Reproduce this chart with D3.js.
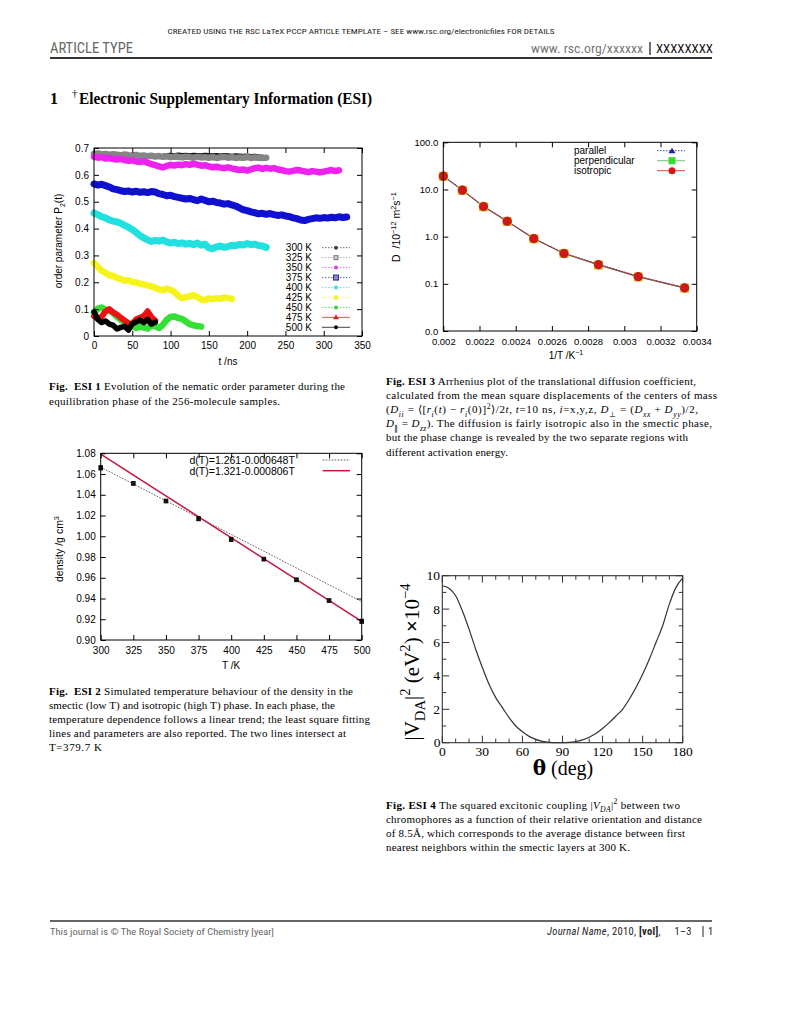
<!DOCTYPE html>
<html><head><meta charset="utf-8">
<script src="https://cdn.jsdelivr.net/npm/d3@7"></script>
<style>body{margin:0;background:#fff} svg{display:block} text{white-space:pre}</style>
</head><body><svg id="page" width="791" height="1024"></svg>
<script>
// ---------------- DATA ----------------
// ESI 1: order parameter P2(t), sampled every p2Step ns
const p2Step = 5;
const p2Labels = ["300 K","325 K","350 K","375 K","400 K","425 K","450 K","475 K","500 K"];
const p2_300 = [0.676,0.678,0.674,0.676,0.673,0.675,0.673,0.671,0.674,0.672,0.670,0.672,0.669,0.671,0.668,0.670,0.667,0.669,0.670,0.673,0.674,0.672,0.675,0.673,0.674,0.672,0.674,0.673,0.672,0.674,0.673,0.672,0.673,0.671,0.673,0.672,0.670,0.672,0.671,0.670,0.671,0.669,0.670,0.668,0.667,0.665];
const p2_325 = [0.678,0.680,0.676,0.678,0.674,0.677,0.675,0.672,0.676,0.673,0.671,0.674,0.670,0.672,0.669,0.671,0.668,0.670,0.667,0.669,0.666,0.668,0.667,0.665,0.668,0.666,0.664,0.667,0.665,0.666,0.664,0.666,0.663,0.665,0.667,0.664,0.666,0.663,0.665,0.664,0.666,0.663,0.665,0.664,0.663,0.664];
const p2_350 = [0.667,0.664,0.666,0.661,0.663,0.659,0.657,0.660,0.655,0.652,0.654,0.650,0.648,0.651,0.645,0.640,0.636,0.632,0.628,0.633,0.637,0.635,0.638,0.636,0.640,0.637,0.641,0.638,0.634,0.636,0.632,0.628,0.630,0.627,0.625,0.628,0.624,0.621,0.618,0.620,0.616,0.620,0.625,0.627,0.622,0.626,0.623,0.625,0.620,0.618,0.614,0.612,0.615,0.618,0.616,0.613,0.610,0.614,0.612,0.609,0.612,0.615,0.618,0.614,0.617];
const p2_375 = [0.566,0.562,0.565,0.560,0.555,0.548,0.545,0.541,0.538,0.540,0.536,0.539,0.535,0.537,0.534,0.538,0.536,0.530,0.527,0.522,0.524,0.519,0.516,0.513,0.510,0.512,0.508,0.504,0.510,0.505,0.500,0.502,0.497,0.495,0.491,0.493,0.488,0.484,0.477,0.470,0.467,0.462,0.459,0.455,0.457,0.453,0.456,0.452,0.449,0.451,0.447,0.445,0.440,0.437,0.432,0.430,0.434,0.437,0.440,0.438,0.441,0.439,0.442,0.440,0.444,0.441,0.443];
const p2_400 = [0.458,0.452,0.444,0.440,0.432,0.428,0.425,0.420,0.412,0.405,0.396,0.386,0.374,0.365,0.358,0.352,0.356,0.353,0.357,0.350,0.346,0.349,0.344,0.347,0.342,0.345,0.340,0.346,0.338,0.342,0.328,0.325,0.332,0.335,0.330,0.333,0.338,0.336,0.341,0.339,0.344,0.340,0.342,0.337,0.335,0.330];
const p2_425 = [0.272,0.258,0.243,0.236,0.226,0.224,0.216,0.212,0.206,0.208,0.201,0.199,0.195,0.192,0.188,0.185,0.180,0.174,0.170,0.176,0.172,0.164,0.150,0.141,0.145,0.148,0.152,0.145,0.136,0.134,0.140,0.137,0.141,0.139,0.144,0.141,0.138];
const p2_450 = [0.088,0.102,0.106,0.098,0.094,0.086,0.072,0.060,0.052,0.040,0.036,0.030,0.036,0.031,0.028,0.041,0.036,0.030,0.042,0.060,0.071,0.073,0.067,0.064,0.054,0.044,0.040,0.037,0.035];
const p2_475 = [0.074,0.064,0.072,0.092,0.100,0.088,0.080,0.068,0.058,0.048,0.044,0.062,0.068,0.074,0.092,0.070,0.058];
const p2_500 = [0.090,0.062,0.050,0.056,0.044,0.040,0.026,0.032,0.036,0.022,0.046,0.052,0.060,0.050,0.062,0.044,0.052];
const p2Series = [p2_300,p2_325,p2_350,p2_375,p2_400,p2_425,p2_450,p2_475,p2_500];
const p2XTicks = [0,50,100,150,200,250,300,350];
const p2YTicks = [0,0.1,0.2,0.3,0.4,0.5,0.6,0.7];

// ESI 2: density vs temperature
const densT = [300,325,350,375,400,425,450,475,500];
const densVal = [1.066,1.051,1.034,1.017,0.997,0.978,0.958,0.938,0.918];
const densErr = [0.002,0.0015,0.0015,0.002,0.002,0.0015,0.0015,0.0015,0.002];
const fitT = [300,500];
const fitSmectic = [1.0666,0.937];   // d(T)=1.261-0.000648T
const fitIso = [1.0792,0.918];       // d(T)=1.321-0.000806T
const fitLabels = ["d(T)=1.261-0.000648T","d(T)=1.321-0.000806T"];
const densXTicks = [300,325,350,375,400,425,450,475,500];
const densYTicks = [0.90,0.92,0.94,0.96,0.98,1.00,1.02,1.04,1.06,1.08];

// ESI 3: Arrhenius plot
const invT = [0.002,0.0021053,0.0022222,0.0023529,0.0025,0.0026667,0.0028571,0.0030769,0.0033333];
const Dpar  = [19.5,9.8,4.4,2.15,0.92,0.45,0.26,0.145,0.083];
const Dperp = [19.0,9.6,4.3,2.10,0.90,0.44,0.25,0.140,0.081];
const Diso  = [19.2,9.7,4.35,2.12,0.91,0.44,0.255,0.142,0.082];
const dLabels = ["parallel","perpendicular","isotropic"];
const arrXTicks = [0.002,0.0022,0.0024,0.0026,0.0028,0.003,0.0032,0.0034];
const arrYTicks = [0.01,0.1,1,10,100];

// ESI 4: squared excitonic coupling vs angle
const theta = [0,5,10,15,20,25,30,35,40,45,50,55,60,65,70,75,80,85,90,95,100,105,110,115,120,125,130,135,140,145,150,155,160,165,170,175,180];
const vda2  = [9.4,9.25,8.8,7.9,6.8,5.6,4.5,3.5,2.7,2.1,1.5,1.0,0.65,0.38,0.2,0.08,0.02,0.0,0.0,0.02,0.07,0.17,0.33,0.55,0.85,1.2,1.6,2.0,2.6,3.3,4.1,5.0,6.0,7.0,8.3,9.3,9.85];
const angXTicks = [0,30,60,90,120,150,180];
const angYTicks = [0,2,4,6,8,10];

// ---------------- HELPERS ----------------
const svg = d3.select("#page");
svg.append("rect").attr("width",791).attr("height",1024).attr("fill","#fff");
const SANS = "'Liberation Sans', Arial, sans-serif";
const SERIF = "'Liberation Serif', 'Times New Roman', serif";

function rich(parent, x, y, segs, o) {
  const fs = o.size;
  const t = parent.append("text").attr("x",x).attr("y",y)
    .attr("font-family",o.family||SERIF).attr("font-size",fs).attr("fill",o.fill||"#000");
  if (o.anchor) t.attr("text-anchor",o.anchor);
  if (o.rotate) t.attr("transform",`rotate(-90 ${x} ${y})`);
  if (o.len) t.attr("textLength",o.len).attr("lengthAdjust","spacing");
  if (o.weight) t.attr("font-weight",o.weight);
  let cur = 0;
  segs.forEach(s => {
    if (typeof s === "string") s = {t:s};
    const ts = t.append("tspan").text(s.t);
    const target = s.sub ? fs*(o.subShift||0.3) : s.sup ? -fs*(o.supShift||0.42) : 0;
    if (target !== cur) { ts.attr("dy", target-cur); cur = target; }
    if (s.sub || s.sup) ts.attr("font-size", fs*(o.scriptScale||0.7));
    if (s.b) ts.attr("font-weight","bold");
    if (s.i) ts.attr("font-style","italic");
    if (s.fill) ts.attr("fill", s.fill);
    if (s.family) ts.attr("font-family", s.family);
    if (s.size) ts.attr("font-size", s.size);
  });
  return t;
}

function frameAxes(g, xs, ys, xt, yt, o) {
  const [xa,xb] = xs.range(), [ya,yb] = ys.range();
  const ts = o.tick||5;
  const fmtX = o.fmtX || (d=>d), fmtY = o.fmtY || (d=>d);
  const style = sel => sel.attr("font-family",o.family||SANS).attr("font-size",o.fs||10);
  const bx = g.append("g").attr("transform",`translate(0,${ya})`)
    .call(d3.axisBottom(xs).tickValues(xt).tickSize(-ts).tickPadding(o.padX||4).tickFormat(fmtX));
  const tx = g.append("g").attr("transform",`translate(0,${yb})`)
    .call(d3.axisTop(xs).tickValues(xt).tickSize(-ts).tickFormat(""));
  const ly = g.append("g").attr("transform",`translate(${xa},0)`)
    .call(d3.axisLeft(ys).tickValues(yt).tickSize(-ts).tickPadding(o.padY||5).tickFormat(fmtY));
  const ry = g.append("g").attr("transform",`translate(${xb},0)`)
    .call(d3.axisRight(ys).tickValues(yt).tickSize(-ts).tickFormat(""));
  [bx,tx,ly,ry].forEach(a => { style(a); a.select(".domain").remove();
    a.selectAll("line").attr("stroke",o.color||"#000").attr("stroke-width",o.tw||1);
    a.selectAll("text").attr("fill","#000"); });
  g.append("rect").attr("x",xa).attr("y",yb).attr("width",xb-xa).attr("height",ya-yb)
    .attr("fill","none").attr("stroke",o.color||"#000").attr("stroke-width",o.fw||1);
  return {bx,tx,ly,ry};
}

// ---------------- HEADER / FOOTER ----------------
const COND = "'Liberation Sans Narrow', 'Roboto Condensed', 'Liberation Sans', sans-serif";
svg.append("text").attr("x",361).attr("y",34).attr("text-anchor","middle").attr("font-family",COND)
  .attr("font-size",8).attr("textLength",387).attr("lengthAdjust","spacingAndGlyphs").attr("fill","#222")
  .text("CREATED USING THE RSC LaTeX PCCP ARTICLE TEMPLATE – SEE www.rsc.org/electronicfiles FOR DETAILS");
svg.append("text").attr("x",50).attr("y",53).attr("font-family",COND).attr("font-size",14)
  .attr("fill","#666").attr("textLength",83).attr("lengthAdjust","spacingAndGlyphs").text("ARTICLE TYPE");
svg.append("text").attr("x",531).attr("y",53).attr("font-family",COND).attr("font-size",13)
  .attr("fill","#777").attr("textLength",112).attr("lengthAdjust","spacingAndGlyphs").text("www. rsc.org/xxxxxx");
svg.append("line").attr("x1",650).attr("x2",650).attr("y1",42).attr("y2",55).attr("stroke","#222").attr("stroke-width",1.3);
svg.append("text").attr("x",656).attr("y",53).attr("font-family",COND).attr("font-size",13)
  .attr("fill","#111").attr("textLength",57).attr("lengthAdjust","spacingAndGlyphs").text("XXXXXXXX");
svg.append("line").attr("x1",50).attr("x2",712).attr("y1",58).attr("y2",58).attr("stroke","#333").attr("stroke-width",2);

svg.append("text").attr("x",50).attr("y",104).attr("font-family",SERIF).attr("font-weight","bold").attr("font-size",16).text("1");
svg.append("text").attr("x",72).attr("y",97).attr("font-family",SERIF).attr("font-size",11).text("†");
svg.append("text").attr("x",79).attr("y",104).attr("font-family",SERIF).attr("font-weight","bold").attr("font-size",16)
  .attr("textLength",293).attr("lengthAdjust","spacingAndGlyphs").text("Electronic Supplementary Information (ESI)");

svg.append("line").attr("x1",50).attr("x2",712).attr("y1",921).attr("y2",921).attr("stroke","#333").attr("stroke-width",1.6);
svg.append("text").attr("x",50).attr("y",935).attr("font-family",COND).attr("font-size",9.5).attr("fill","#666")
  .attr("textLength",224).attr("lengthAdjust","spacingAndGlyphs").text("This journal is © The Royal Society of Chemistry [year]");
rich(svg, 547, 935, [{t:"Journal Name",i:true},", 2010, ",{t:"[vol]",b:true},",     1–3  "], {family:COND,size:10.5,fill:"#222",len:150});
svg.append("line").attr("x1",703).attr("x2",703).attr("y1",926).attr("y2",937).attr("stroke","#222").attr("stroke-width",1);
svg.append("text").attr("x",708).attr("y",935).attr("font-family",COND).attr("font-size",10.5).attr("fill","#222").text("1");

// ---------------- ESI 1 ----------------
{
  const g = svg.append("g");
  const xs = d3.scaleLinear().domain([0,350]).range([94,362]);
  const ys = d3.scaleLinear().domain([0,0.7]).range([336,148]);
  const colors = ["#111","#858585","#ee22ee","#1010d0","#22e0e0","#f4f41a","#33e033","#ee1111","#000"];
  const widths = [4.5,6.5,6.5,7,7,6.5,6.5,6,5.5];
  const line = d3.line().x((d,i)=>xs(i*p2Step)).y(d=>ys(d));
  p2Series.forEach((s,k) => {
    g.append("path").datum(s).attr("d",line).attr("fill","none").attr("stroke",colors[k])
      .attr("stroke-width",widths[k]).attr("stroke-linejoin","round").attr("stroke-linecap","round");
  });
  frameAxes(g, xs, ys, p2XTicks, p2YTicks, {fs:10, padX:6, fmtY:d=>d===0?"0":d3.format(".1f")(d), fmtX:d=>d});
  g.append("text").attr("x",228).attr("y",365).attr("text-anchor","middle").attr("font-family",SANS).attr("font-size",10).text("t /ns");
  rich(g, 62, 241, ["order parameter P",{t:"2",sub:true},"(t)"], {family:SANS,size:10,anchor:"middle",rotate:true});
  // legend
  const legCol = ["#444","#999","#e040e0","#4040a0","#40e0e0","#f0f040","#40d040","#dd2222","#111"];
  const dash = ["1.5,1.5","1.5,1.5","1.5,1.5","1.5,1.5","1.5,1.5","1.5,1.5","1.5,1.5",null,null];
  p2Labels.forEach((lab,k) => {
    const y = 247.7 + k*9.95;
    g.append("text").attr("x",312).attr("y",y+3.5).attr("text-anchor","end").attr("font-family",SANS).attr("font-size",10).text(lab);
    const l = g.append("line").attr("x1",322).attr("x2",350).attr("y1",y).attr("y2",y).attr("stroke",legCol[k]).attr("stroke-width",0.8);
    if (dash[k]) l.attr("stroke-dasharray",dash[k]);
    if (k===3) g.append("rect").attr("x",333.5).attr("y",y-2.5).attr("width",5).attr("height",5).attr("fill","#8888cc").attr("stroke","#303080");
    else if (k===1) g.append("rect").attr("x",334).attr("y",y-2).attr("width",4).attr("height",4).attr("fill","#ccc").attr("stroke","#777");
    else if (k===7) g.append("path").attr("d",`M333,${y+2} L336,${y-3} L339,${y+2} Z`).attr("fill",legCol[k]);
    else g.append("circle").attr("cx",336).attr("cy",y).attr("r",k===5?2.5:2).attr("fill",legCol[k]);
  });
}

// ---------------- ESI 3 ----------------
{
  const g = svg.append("g");
  const xs = d3.scaleLinear().domain([0.002,0.0034]).range([443.3,696.7]);
  const ys = d3.scaleLog().domain([0.01,100]).range([331,142.3]);
  const mk = arr => d3.line().x((d,i)=>xs(invT[i])).y(d=>ys(d))(arr);
  g.append("path").attr("d",mk(Dperp)).attr("fill","none").attr("stroke","#66bb66").attr("stroke-width",1);
  g.append("path").attr("d",mk(Dpar)).attr("fill","none").attr("stroke","#3030a0").attr("stroke-width",1).attr("stroke-dasharray","1.5,1.5");
  g.append("path").attr("d",mk(Diso)).attr("fill","none").attr("stroke","#a04040").attr("stroke-width",1.1);
  Dpar.forEach((d,i)=>{ const x=xs(invT[i]), y=ys(d);
    g.append("path").attr("d",`M${x-3.5},${y+3} L${x},${y-4} L${x+3.5},${y+3} Z`).attr("fill","#2020b0"); });
  Dperp.forEach((d,i)=>{ const x=xs(invT[i]), y=ys(d);
    g.append("rect").attr("x",x-4.5).attr("y",y-4.5).attr("width",9).attr("height",9).attr("fill","#e0c020"); });
  Diso.forEach((d,i)=>{ const x=xs(invT[i]), y=ys(d);
    g.append("circle").attr("cx",x).attr("cy",y).attr("r",4.3).attr("fill","#d01818").attr("stroke","#a01010").attr("stroke-width",0.6); });
  frameAxes(g, xs, ys, arrXTicks, arrYTicks, {fs:9.5, padX:7, fmtY:d3.format(".1f"), fmtX:d=>String(+d.toFixed(4))});
  rich(g, 566, 359, ["1/T /K",{t:"−1",sup:true}], {family:SANS,size:10,anchor:"middle"});
  rich(g, 400, 227, ["D  /10",{t:"−12",sup:true}," m",{t:"2",sup:true},"s",{t:"−1",sup:true}], {family:SANS,size:10.5,anchor:"middle",rotate:true});
  const lc = ["#3030a0","#66bb66","#cc3333"];
  dLabels.forEach((lab,k)=>{
    const y = 150.7 + k*10;
    g.append("text").attr("x",574).attr("y",y+3.5).attr("font-family",SANS).attr("font-size",10).text(lab);
    const l = g.append("line").attr("x1",657).attr("x2",685).attr("y1",y).attr("y2",y).attr("stroke",lc[k]).attr("stroke-width",0.9);
    if (k===0) { l.attr("stroke-dasharray","1.5,1.5");
      g.append("path").attr("d",`M668.5,${y+2.5} L672,${y-3} L675.5,${y+2.5} Z`).attr("fill","#2020b0"); }
    if (k===1) g.append("rect").attr("x",668.5).attr("y",y-3.5).attr("width",7).attr("height",7).attr("fill","#33dd33");
    if (k===2) g.append("circle").attr("cx",672).attr("cy",y).attr("r",3.5).attr("fill","#d01818");
  });
}

// ---------------- ESI 2 ----------------
{
  const g = svg.append("g");
  const xs = d3.scaleLinear().domain([300,500]).range([100.7,361.7]);
  const ys = d3.scaleLinear().domain([0.90,1.08]).range([640,453.3]);
  const ln = d3.line().x((d,i)=>xs(fitT[i])).y(d=>ys(d));
  g.append("path").attr("d",ln(fitSmectic)).attr("fill","none").attr("stroke","#555").attr("stroke-width",1).attr("stroke-dasharray","1.5,1.5");
  g.append("path").attr("d",ln(fitIso)).attr("fill","none").attr("stroke","#c4163e").attr("stroke-width",1.5);
  densT.forEach((t,i)=>{
    const x = xs(t);
    g.append("line").attr("x1",x).attr("x2",x).attr("y1",ys(densVal[i]-densErr[i])).attr("y2",ys(densVal[i]+densErr[i])).attr("stroke","#000").attr("stroke-width",1);
    [densVal[i]-densErr[i], densVal[i]+densErr[i]].forEach(v=>
      g.append("line").attr("x1",x-2).attr("x2",x+2).attr("y1",ys(v)).attr("y2",ys(v)).attr("stroke","#000").attr("stroke-width",1));
    g.append("rect").attr("x",x-2.3).attr("y",ys(densVal[i])-2.3).attr("width",4.6).attr("height",4.6).attr("fill","#111");
  });
  frameAxes(g, xs, ys, densXTicks, densYTicks, {fs:10, padX:7, fmtY:d3.format(".2f"), fmtX:d=>d});
  g.append("text").attr("x",231).attr("y",669).attr("text-anchor","middle").attr("font-family",SANS).attr("font-size",10).text("T /K");
  rich(g, 63, 549, ["density /g cm",{t:"3",sup:true}], {family:SANS,size:10.5,anchor:"middle",rotate:true});
  fitLabels.forEach((lab,k)=>{
    const y = 460 + k*10.7;
    g.append("text").attr("x",189.5).attr("y",y+3.8).attr("font-family",SANS).attr("font-size",10.5).text(lab);
    const l = g.append("line").attr("x1",322.7).attr("x2",350).attr("y1",y).attr("y2",y)
      .attr("stroke",k===0?"#555":"#c4163e").attr("stroke-width",k===0?1:1.5);
    if (k===0) l.attr("stroke-dasharray","1.5,1.5");
  });
}

// ---------------- ESI 4 ----------------
{
  const g = svg.append("g");
  const xs = d3.scaleLinear().domain([0,180]).range([442.3,682.7]);
  const ys = d3.scaleLinear().domain([0,10]).range([742.7,575.7]);
  const minorX = d3.range(0,181,10), minorY = d3.range(0,11,1);
  minorX.forEach(v=>{ const L = v%30===0?7:4; const x=xs(v);
    g.append("line").attr("x1",x).attr("x2",x).attr("y1",742.7).attr("y2",742.7-L).attr("stroke","#333");
    g.append("line").attr("x1",x).attr("x2",x).attr("y1",575.7).attr("y2",575.7+L).attr("stroke","#333"); });
  minorY.forEach(v=>{ const L = v%2===0?7:4; const y=ys(v);
    g.append("line").attr("x1",442.3).attr("x2",442.3+L).attr("y1",y).attr("y2",y).attr("stroke","#333");
    g.append("line").attr("x1",682.7).attr("x2",682.7-L).attr("y1",y).attr("y2",y).attr("stroke","#333"); });
  g.append("rect").attr("x",442.3).attr("y",575.7).attr("width",240.4).attr("height",167).attr("fill","none").attr("stroke","#333").attr("stroke-width",1.1);
  const ln = d3.line().curve(d3.curveMonotoneX).x((d,i)=>xs(theta[i])).y(d=>ys(d));
  g.append("path").attr("d",ln(vda2)).attr("fill","none").attr("stroke","#333").attr("stroke-width",1.2);
  angXTicks.forEach(v=>g.append("text").attr("x",xs(v)).attr("y",756).attr("text-anchor","middle").attr("font-family",SERIF).attr("font-size",13.5).text(v));
  angYTicks.forEach(v=>g.append("text").attr("x",v===0?440.5:440).attr("y",ys(v)+4.5).attr("text-anchor","end").attr("font-family",SERIF).attr("font-size",13.5).text(v));
  rich(g, 563, 775, [{t:"θ",b:true,family:"'DejaVu Serif', serif"}," (deg)"], {family:SERIF,size:20,anchor:"middle"});
  rich(g, 419, 662, ["|V",{t:"DA",sub:true},"|",{t:"2",sup:true}," (eV",{t:"2",sup:true},") ",{t:"×",b:true},"10",{t:"−4",sup:true}],
    {family:SERIF,size:21,anchor:"middle",rotate:true,subShift:0.3,supShift:0.45});
}

// ---------------- CAPTIONS ----------------
function caption(x, y0, lines, step) {
  lines.forEach((ln,i)=> rich(svg, x, y0 + i*step, ln.segs, {family:SERIF,size:11,len:ln.len}));
}
caption(49, 390, [
  {segs:[{t:"Fig.",b:true},"  ",{t:"ESI 1",b:true}," Evolution of the nematic order parameter during the"], len:296},
  {segs:["equilibration phase of the 256-molecule samples."], len:231}
], 14.5);
caption(49, 695, [
  {segs:[{t:"Fig.",b:true},"  ",{t:"ESI 2",b:true}," Simulated temperature behaviour of the density in the"], len:304},
  {segs:["smectic (low T) and isotropic (high T) phase. In each phase, the"], len:286},
  {segs:["temperature dependence follows a linear trend; the least square fitting"], len:321},
  {segs:["lines and parameters are also reported. The two lines intersect at"], len:297},
  {segs:["T=379.7 K"], len:53}
], 14.1);
caption(386, 385, [
  {segs:[{t:"Fig.",b:true}," ",{t:"ESI 3",b:true}," Arrhenius plot of the translational diffusion coefficient,"], len:310},
  {segs:["calculated from the mean square displacements of the centers of mass"], len:331},
  {segs:["(",{t:"D",i:true},{t:"ii",i:true,sub:true}," = ⟨[",{t:"r",i:true},{t:"i",i:true,sub:true},"(",{t:"t",i:true},") − ",{t:"r",i:true},{t:"i",i:true,sub:true},"(0)]",{t:"2",sup:true},"⟩/2",{t:"t",i:true},", ",{t:"t",i:true},"=10 ns, ",{t:"i",i:true},"=x,y,z, ",{t:"D",i:true},{t:"⊥",sub:true}," = (",{t:"D",i:true},{t:"xx",i:true,sub:true}," + ",{t:"D",i:true},{t:"yy",i:true,sub:true},")/2,"], len:312},
  {segs:[{t:"D",i:true},{t:"∥",sub:true}," = ",{t:"D",i:true},{t:"zz",i:true,sub:true},"). The diffusion is fairly isotropic also in the smectic phase,"], len:326},
  {segs:["but the phase change is revealed by the two separate regions with"], len:302},
  {segs:["different activation energy."], len:122}
], 14.1);
caption(386, 809, [
  {segs:[{t:"Fig.",b:true}," ",{t:"ESI 4",b:true}," The squared excitonic coupling |",{t:"V",i:true},{t:"DA",i:true,sub:true},"|",{t:"2",sup:true}," between two"], len:294},
  {segs:["chromophores as a function of their relative orientation and distance"], len:316},
  {segs:["of 8.5Å, which corresponds to the average distance between first"], len:299},
  {segs:["nearest neighbors within the smectic layers at 300 K."], len:244}
], 14);
</script></body></html>
